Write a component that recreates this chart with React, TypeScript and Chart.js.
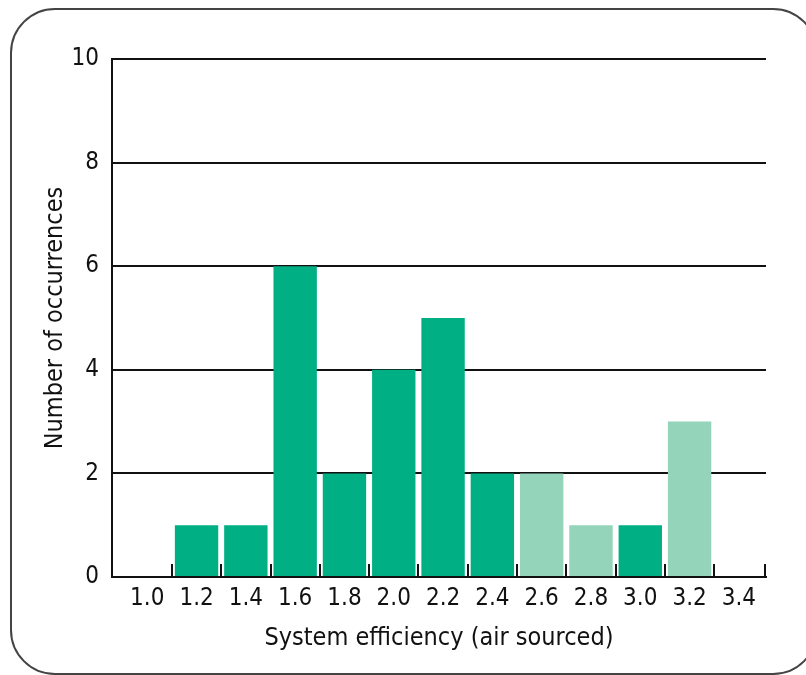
import React, { useEffect, useRef } from "react";
import { Chart, registerables } from "chart.js";

Chart.register(...registerables);

const categories = ["1.0", "1.2", "1.4", "1.6", "1.8", "2.0", "2.2", "2.4", "2.6", "2.8", "3.0", "3.2", "3.4"];
const counts = [0, 1, 1, 6, 2, 4, 5, 2, 2, 1, 1, 3, 0];
const shades = ["dark", "dark", "dark", "dark", "dark", "dark", "dark", "dark", "light", "light", "dark", "light", "dark"];
const yTicks = [0, 2, 4, 6, 8, 10];

const DARK = "#00B084";
const LIGHT = "#94D4BA";
const INK = "#111111";
const FONT = "'Liberation Sans Narrow', 'DejaVu Sans Condensed', 'Liberation Sans', sans-serif";

const xValues = categories.map((c) => parseFloat(c));

const boundaryTicks = {
  id: "boundaryTicks",
  afterDatasetsDraw(chart: any) {
    const { ctx, chartArea } = chart;
    const xs = chart.scales.x;
    ctx.save();
    ctx.strokeStyle = INK;
    ctx.lineWidth = 2;
    const positions: number[] = [];
    for (let i = 0; i < xValues.length - 1; i++) {
      positions.push(xs.getPixelForValue((xValues[i] + xValues[i + 1]) / 2));
    }
    positions.push(chartArea.right - 1);
    positions.forEach((p) => {
      ctx.beginPath();
      ctx.moveTo(Math.round(p), chartArea.bottom);
      ctx.lineTo(Math.round(p), chartArea.bottom - 13);
      ctx.stroke();
    });
    ctx.restore();
  },
};

export default function App() {
  const ref = useRef<HTMLCanvasElement | null>(null);
  useEffect(() => {
    if (!ref.current) return;
    const chart = new Chart(ref.current, {
      type: "bar",
      data: {
        datasets: [
          {
            data: xValues.map((x, i) => ({ x, y: counts[i] })),
            backgroundColor: shades.map((s) => (s === "light" ? LIGHT : DARK)),
            borderWidth: 0,
            categoryPercentage: 1,
            barPercentage: 0.88,
          },
        ],
      },
      options: {
        animation: false,
        responsive: false,
        maintainAspectRatio: false,
        layout: { padding: { top: 59, right: 40, left: 0, bottom: 0 } },
        plugins: { legend: { display: false }, tooltip: { enabled: false } },
        scales: {
          x: {
            type: "linear",
            offset: false,
            min: 0.857,
            max: 3.51,
            afterBuildTicks: (scale: any) => {
              scale.ticks = xValues.map((v) => ({ value: v }));
            },
            afterFit: (scale: any) => {
              scale.height = 98;
            },
            grid: { display: false, drawTicks: false, offset: false },
            border: { display: true, color: INK, width: 2 },
            ticks: {
              autoSkip: false,
              maxRotation: 0,
              padding: 7,
              color: INK,
              font: { family: FONT, size: 24 },
              callback: (v: any) => Number(v).toFixed(1),
            },
            title: {
              display: true,
              text: "System efficiency (air sourced)",
              color: INK,
              font: { family: FONT, size: 25 },
              padding: { top: 0, bottom: 22 },
            },
          },
          y: {
            type: "linear",
            min: 0,
            max: 10,
            afterBuildTicks: (scale: any) => {
              scale.ticks = yTicks.map((v) => ({ value: v }));
            },
            afterFit: (scale: any) => {
              scale.width = 112;
            },
            grid: { color: INK, lineWidth: 2, drawTicks: false },
            border: { display: true, color: INK, width: 2 },
            ticks: {
              padding: 13,
              color: INK,
              font: { family: FONT, size: 24 },
            },
            title: {
              display: true,
              text: "Number of occurrences",
              color: INK,
              font: { family: FONT, size: 25 },
              padding: { top: 40, bottom: 0 },
            },
          },
        },
      },
      plugins: [boundaryTicks],
    });
    return () => chart.destroy();
  }, []);

  return (
    <div style={{ position: "fixed", left: 0, top: 0, width: 806, height: 675, overflow: "hidden", background: "#fff" }}>
      <div
        style={{
          position: "absolute",
          left: 10,
          top: 8,
          width: 808,
          height: 667,
          boxSizing: "border-box",
          border: "2px solid #444",
          borderRadius: 45,
        }}
      />
      <canvas ref={ref} width={806} height={675} style={{ position: "absolute", left: 0, top: 0, width: 806, height: 675 }} />
    </div>
  );
}
